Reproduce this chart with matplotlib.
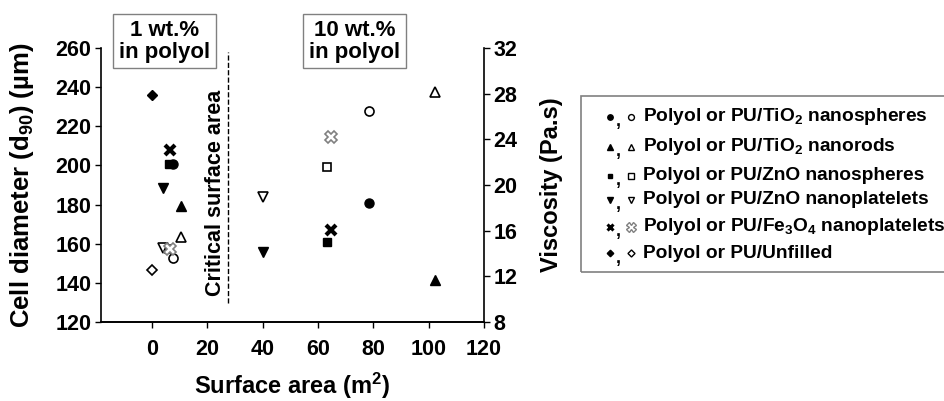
import matplotlib
matplotlib.use("Agg")
import matplotlib.pyplot as plt
from matplotlib.patches import Rectangle
from matplotlib.lines import Line2D

plt.rcParams['font.family'] = ['Liberation Sans', 'DejaVu Sans']
plt.rcParams['font.weight'] = 'bold'
plt.rcParams['mathtext.fontset'] = 'custom'
plt.rcParams['mathtext.rm'] = 'Liberation Sans:bold'
plt.rcParams['mathtext.bf'] = 'Liberation Sans:bold'
plt.rcParams['mathtext.default'] = 'regular'

# surface area (m2), cell diameter of PU foam (um), viscosity of polyol (Pa.s)
tio2_sph_x = [7.5, 78.5]
tio2_sph_cell = [152.5, 228.0]
tio2_sph_visc = [21.8, 18.4]

tio2_rod_x = [10.3, 102.3]
tio2_rod_cell = [163.5, 237.7]
tio2_rod_visc = [18.2, 11.7]

zno_sph_x = [6.0, 63.1]
zno_sph_cell = [157.5, 199.4]
zno_sph_visc = [21.8, 15.0]

zno_pl_x = [3.9, 40.0]
zno_pl_cell = [157.8, 183.7]
zno_pl_visc = [19.7, 14.1]

fe_pl_x = [6.3, 64.7]
fe_pl_cell = [157.5, 214.7]
fe_pl_visc = [23.1, 16.1]

unf_x = [0.0]
unf_cell = [146.5]
unf_visc = [27.9]

critical_x = 27.5

labels = ['Polyol or PU/TiO$_2$ nanospheres',
          'Polyol or PU/TiO$_2$ nanorods',
          'Polyol or PU/ZnO nanospheres',
          'Polyol or PU/ZnO nanoplatelets',
          'Polyol or PU/Fe$_3$O$_4$ nanoplatelets',
          'Polyol or PU/Unfilled']

W, H = 944, 401
fig = plt.figure(figsize=(W / 100, H / 100), dpi=100)
ax = fig.add_axes([101 / W, (H - 322) / H, (484 - 101) / W, (322 - 48) / H])
ax2 = ax.twinx()

series = [
    (tio2_sph_x, tio2_sph_cell, tio2_sph_visc, 'o', 6.5, 'black'),
    (tio2_rod_x, tio2_rod_cell, tio2_rod_visc, '^', 6.5, 'black'),
    (zno_sph_x, zno_sph_cell, zno_sph_visc, 's', 6, 'black'),
    (zno_pl_x, zno_pl_cell, zno_pl_visc, 'v', 6.5, 'black'),
    (fe_pl_x, fe_pl_cell, fe_pl_visc, 'X', 8, 'gray'),
    (unf_x, unf_cell, unf_visc, 'D', 5.5, 'black'),
]

for x, cell, visc, m, ms, ec in series:
    ax.plot(x, cell, ls='none', marker=m, ms=ms, mfc='white', mec=ec, mew=1.2)
    if m == 'X':
        ax2.plot(x, visc, ls='none', marker='x', ms=7, mec='black', mew=3)
    else:
        ax2.plot(x, visc, ls='none', marker=m, ms=ms, mfc='black', mec='black')

ax.set_xlim(-18.5, 120)
ax.set_ylim(120, 260)
ax.set_xticks(range(0, 121, 20))
ax.set_yticks(range(120, 261, 20))
ax2.set_ylim(8, 32)
ax2.set_yticks(range(8, 33, 4))

for a in (ax, ax2):
    a.spines['top'].set_visible(False)
    a.tick_params(labelsize=15.5, width=1, length=4, direction='out', pad=3)
    for s in a.spines.values():
        s.set_linewidth(1.2)
ax.tick_params(axis='x', pad=8)
ax.spines['right'].set_visible(False)
ax2.spines['left'].set_visible(False)

ax.set_xlabel('Surface area (m$^2$)', fontsize=17, fontweight='bold', labelpad=8)
ax.set_ylabel('Cell diameter (d$_{90}$) (µm)', fontsize=18.5, fontweight='bold', labelpad=14)
ax2.set_ylabel('Viscosity (Pa.s)', fontsize=17, fontweight='bold', labelpad=16)

ax.plot([critical_x, critical_x], [129.5, 258], ls='--', color='black', lw=1)
ax.text(critical_x - 4.7, 186, 'Critical surface area', rotation=90,
        ha='center', va='center', fontsize=15.5, fontweight='bold')

box = dict(boxstyle='square,pad=0.25', fc='white', ec='gray', lw=1)
tr = ax.get_xaxis_transform()
ax.text(4.5, 1.024, '1 wt.%\nin polyol', transform=tr, ha='center', va='center',
        fontsize=16, fontweight='bold', bbox=box, clip_on=False, linespacing=1.05)
ax.text(73.2, 1.024, '10 wt.%\nin polyol', transform=tr, ha='center', va='center',
        fontsize=16, fontweight='bold', bbox=box, clip_on=False, linespacing=1.05)

# legend drawn by hand: filled marker, comma, open marker, label
fig.patches.append(Rectangle((581 / W, (H - 272) / H), 0.5, 176 / H,
                             transform=fig.transFigure, fc='none', ec='gray', lw=1.2))
rows_y = [116.7, 146.7, 176, 200, 226.7, 253.3]
for (x, cell, visc, m, ms, ec), lab, yy in zip(series, labels, rows_y):
    fy = (H - yy) / H
    if m == 'X':
        fig.lines.append(Line2D([610 / W], [fy], transform=fig.transFigure, ls='none',
                                marker='x', ms=5, mec='black', mew=2.2))
    else:
        fig.lines.append(Line2D([610 / W], [fy], transform=fig.transFigure, ls='none',
                                marker=m, ms=ms * 0.6, mfc='black', mec='black'))
    fig.lines.append(Line2D([631 / W], [fy], transform=fig.transFigure, ls='none',
                            marker=m, ms=ms * 0.65 if m != 'X' else 7, mfc='white',
                            mec=ec, mew=1))
    fig.text(616 / W, fy - 0.012, ',', fontsize=13, fontweight='bold', ha='left', va='center')
    fig.text(643 / W, fy, lab, fontsize=13.8, fontweight='bold', ha='left', va='center')

fig.savefig('out.png', dpi=100)
